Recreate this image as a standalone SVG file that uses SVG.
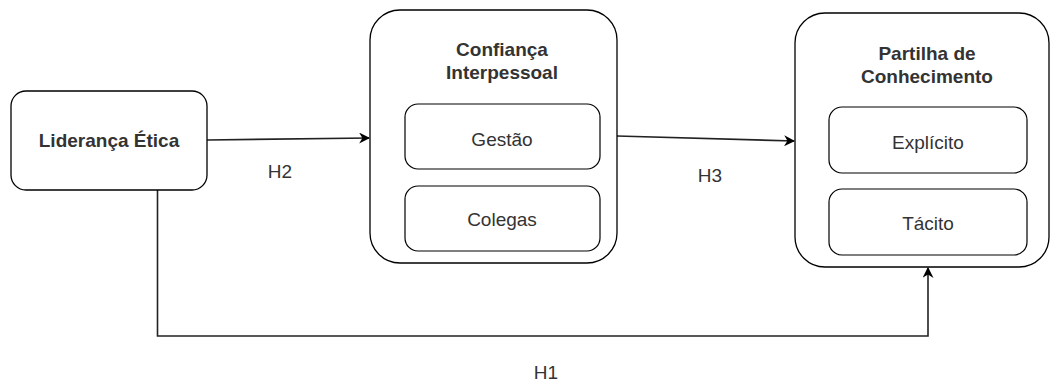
<svg xmlns="http://www.w3.org/2000/svg" width="1052" height="384" viewBox="0 0 1052 384">
  <defs>
    <style>
      .box { fill: #ffffff; stroke: #000000; stroke-width: 1.3; }
      .inner { fill: #ffffff; stroke: #000000; stroke-width: 1.2; }
      .t { font-family: "Liberation Sans", Arial, sans-serif; font-size: 19px; fill: #333333; text-anchor: middle; }
      .b { font-weight: bold; }
      .edge { fill: none; stroke: #222222; stroke-width: 1.6; }
    </style>
    <marker id="arrow" viewBox="0 0 10 10" refX="9" refY="5" markerWidth="11" markerHeight="11" markerUnits="userSpaceOnUse" orient="auto">
      <path d="M0,0 L10,5 L0,10 L3,5 Z" fill="#000000"/>
    </marker>
  </defs>
  <rect width="1052" height="384" fill="#ffffff"/>

  <g id="connectors">
    <path class="edge" d="M207,140 L369,138" marker-end="url(#arrow)"/>
    <path class="edge" d="M617,136 L794,141" marker-end="url(#arrow)"/>
    <path class="edge" d="M157.5,190 L157.5,336 L928,336 L928,268" marker-end="url(#arrow)"/>
    <text class="t" x="280" y="178">H2</text>
    <text class="t" x="710" y="182">H3</text>
    <text class="t" x="546" y="379">H1</text>
  </g>

  <g id="lideranca">
    <rect class="box" x="11" y="91" width="196" height="99" rx="15" ry="15"/>
    <text class="t b" x="109" y="147">Liderança Ética</text>
  </g>

  <g id="confianca">
    <rect class="box" x="370" y="10" width="247" height="253" rx="30" ry="30"/>
    <text class="t b" x="502" y="56">Confiança</text>
    <text class="t b" x="502" y="79">Interpessoal</text>
    <g id="gestao">
      <rect class="inner" x="405" y="104" width="195" height="65" rx="13" ry="13"/>
      <text class="t" x="502" y="146">Gestão</text>
    </g>
    <g id="colegas">
      <rect class="inner" x="405" y="186" width="195" height="65" rx="13" ry="13"/>
      <text class="t" x="502" y="226">Colegas</text>
    </g>
  </g>

  <g id="partilha">
    <rect class="box" x="795" y="13" width="254" height="254" rx="30" ry="30"/>
    <text class="t b" x="927" y="60">Partilha de</text>
    <text class="t b" x="927" y="83">Conhecimento</text>
    <g id="explicito">
      <rect class="inner" x="829" y="107" width="198" height="66" rx="13" ry="13"/>
      <text class="t" x="928" y="149">Explícito</text>
    </g>
    <g id="tacito">
      <rect class="inner" x="829" y="189" width="198" height="66" rx="13" ry="13"/>
      <text class="t" x="928" y="230">Tácito</text>
    </g>
  </g>
</svg>
